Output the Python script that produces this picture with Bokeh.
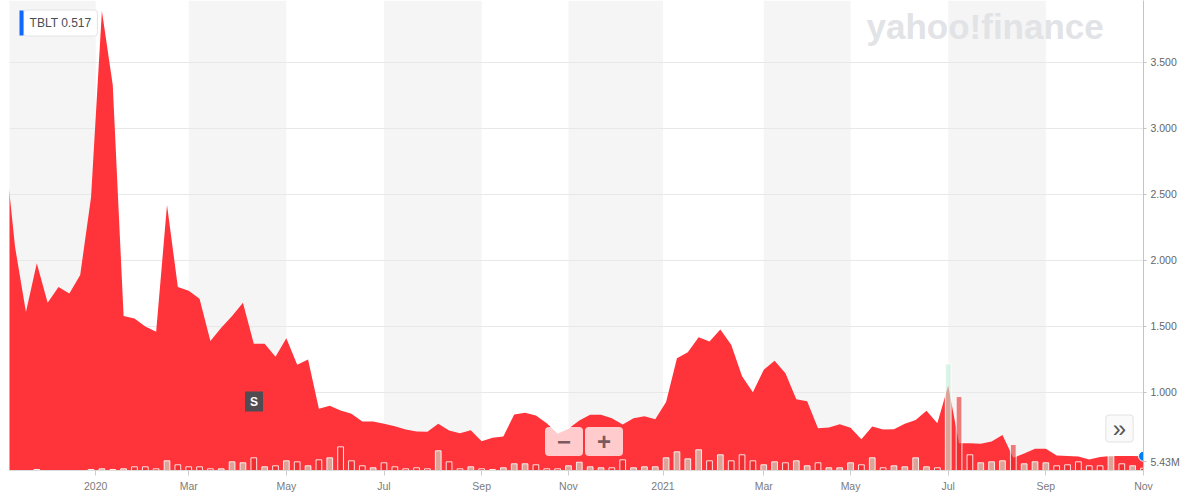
import pandas as pd
from bokeh.plotting import figure
from bokeh.models import (Range1d, FixedTicker, CustomJSTickFormatter,
                          BoxAnnotation, Label)
from bokeh.embed import file_html
from bokeh.resources import INLINE

# ---------------- data ----------------
symbol_text = "TBLT 0.517"
last_volume_text = "5.43M"

week_dates = pd.date_range("2019-11-03", periods=106, freq="7D")

price = [2.89, 2.10, 1.61, 1.98, 1.68, 1.80, 1.75, 1.89, 2.48, 3.89,
         3.33, 1.58, 1.56, 1.50, 1.46, 2.42, 1.80, 1.77, 1.71, 1.39,
         1.49, 1.58, 1.68, 1.37, 1.37, 1.27, 1.41, 1.21, 1.25, 0.877,
         0.899, 0.864, 0.839, 0.780, 0.780, 0.763, 0.745, 0.720, 0.705, 0.702,
         0.763, 0.712, 0.692, 0.714, 0.631, 0.657, 0.667, 0.833, 0.846, 0.826,
         0.767, 0.687, 0.725, 0.788, 0.831, 0.831, 0.805, 0.758, 0.805, 0.820,
         0.798, 0.927, 1.260, 1.305, 1.419, 1.386, 1.477, 1.361, 1.123, 1.002,
         1.172, 1.240, 1.146, 0.949, 0.934, 0.730, 0.735, 0.760, 0.733, 0.646,
         0.742, 0.720, 0.722, 0.763, 0.792, 0.861, 0.767, 1.053, 0.616, 0.616,
         0.611, 0.629, 0.678, 0.505, 0.538, 0.573, 0.573, 0.523, 0.519, 0.515,
         0.492, 0.511, 0.519, 0.519, 0.519, 0.517]

volume_m = [0, 0, 0, 2.4, 0, 0, 0, 0, 2.4, 4.0,
            2.4, 4.0, 8.7, 8.7, 4.0, 22.9, 13.5, 8.7, 8.7, 4.0,
            4.0, 20.5, 18.2, 30.0, 8.7, 11.1, 22.9, 20.5, 11.1, 25.3,
            30.0, 55.9, 22.9, 11.1, 6.4, 18.2, 8.7, 4.0, 6.4, 4.0,
            46.5, 20.5, 4.0, 8.7, 4.0, 2.4, 6.4, 15.8, 15.8, 13.5,
            4.0, 4.0, 11.1, 19.6, 8.7, 6.4, 6.4, 25.3, 6.4, 8.7,
            8.7, 30.0, 44.1, 27.6, 48.9, 22.9, 37.1, 22.9, 37.1, 22.9,
            13.5, 20.5, 18.2, 22.9, 11.1, 18.2, 6.4, 6.4, 18.2, 13.5,
            30.0, 6.4, 11.1, 8.7, 30.0, 8.7, 6.4, 251.8, 174.6, 37.1,
            18.2, 20.5, 22.9, 61.4, 15.8, 20.5, 18.2, 11.1, 13.5, 20.5,
            11.1, 11.1, 34.7, 15.8, 11.1, 5.43]

volume_up = [0, 0, 0, 1, 0, 0, 0, 0, 1, 1,
             1, 1, 0, 0, 0, 1, 0, 0, 0, 0,
             1, 1, 1, 0, 1, 0, 1, 0, 1, 0,
             1, 0, 0, 0, 1, 0, 0, 0, 0, 0,
             1, 0, 0, 1, 0, 1, 1, 1, 1, 0,
             0, 0, 1, 1, 1, 1, 0, 0, 1, 1,
             1, 1, 1, 1, 1, 0, 1, 0, 0, 0,
             1, 1, 0, 1, 1, 0, 1, 1, 1, 0,
             1, 0, 1, 1, 1, 1, 0, 1, 0, 0,
             1, 1, 1, 0, 1, 1, 1, 0, 0, 0,
             0, 0, 1, 0, 1, 0]

tick_months = ["2020-01", "2020-03", "2020-05", "2020-07", "2020-09", "2020-11",
               "2021-01", "2021-03", "2021-05", "2021-07", "2021-09", "2021-11"]
tick_labels = ["2020", "Mar", "May", "Jul", "Sep", "Nov",
               "2021", "Mar", "May", "Jul", "Sep", "Nov"]
y_ticks = [1.0, 1.5, 2.0, 2.5, 3.0, 3.5]

# ---------------- layout constants ----------------
FRAME_LEFT = 9
FRAME_W, FRAME_H = 1134, 470
WEEK_PX = 10.85
PX_PER_UNIT = 132.0
Y_START = 0.409
VOL_MAX = 1110.0
MS_DAY = 86400000
FONT = "Liberation Sans"

ms = [d.value // 10**6 for d in week_dates]
ms_per_px = 7 * MS_DAY / WEEK_PX
x_end = ms[-1]
x_start = x_end - FRAME_W * ms_per_px
y_end = Y_START + FRAME_H / PX_PER_UNIT


def px(page_x):
    return x_start + (page_x - FRAME_LEFT) * ms_per_px


def py(page_y):
    return y_end - page_y / PX_PER_UNIT


tick_ms = []
for m, lab in zip(tick_months, tick_labels):
    start = pd.Timestamp(m + "-01")
    if lab.isdigit():
        tick_ms.append(start.value // 10**6)
    else:
        tick_ms.append(next(v for d, v in zip(week_dates, ms) if d >= start))

vol_tick = py(461)

# ---------------- figure ----------------
p = figure(x_axis_type="datetime", y_axis_location="right",
           frame_width=FRAME_W, frame_height=FRAME_H,
           min_border_left=FRAME_LEFT, min_border_right=44, min_border_top=0, min_border_bottom=22,
           x_range=Range1d(x_start, x_end), y_range=Range1d(Y_START, y_end),
           output_backend="svg", toolbar_location=None)
p.outline_line_color = None
p.background_fill_color = "white"
p.border_fill_color = "white"
p.extra_y_ranges = {"vol": Range1d(0, VOL_MAX)}

# alternating background bands (two-month periods)
bands = [(x_start - 10 * MS_DAY, tick_ms[0])] + [(tick_ms[k], tick_ms[k + 1]) for k in range(1, 11, 2)]
for l, r in bands:
    p.add_layout(BoxAnnotation(left=l, right=r, fill_color="#f5f5f5", fill_alpha=1.0,
                               line_alpha=0, level="image"))

# grid
p.xgrid.visible = False
p.ygrid.ticker = FixedTicker(ticks=y_ticks)
p.ygrid.grid_line_color = "#e8e8e8"
p.ygrid.level = "underlay"

# price area
p.varea(x=week_dates, y1=0, y2=price, fill_color="#ff333a", fill_alpha=1.0)

# volume bars
bar_w = 3.7 * MS_DAY
up_x = [d for d, u in zip(week_dates, volume_up) if u]
up_v = [v for v, u in zip(volume_m, volume_up) if u]
dn_x = [d for d, u in zip(week_dates, volume_up) if not u]
dn_v = [v for v, u in zip(volume_m, volume_up) if not u]
p.vbar(x=dn_x, top=dn_v, bottom=0, width=bar_w, y_range_name="vol",
       fill_color="#e62b2b", fill_alpha=0.6, line_color="white", line_alpha=0.85, line_width=1)
p.vbar(x=up_x, top=up_v, bottom=0, width=bar_w, y_range_name="vol",
       fill_color="#c5eed9", fill_alpha=0.6, line_color="white", line_alpha=0.85, line_width=1)

# last point marker
p.scatter(x=[week_dates[-1]], y=[price[-1]], size=10, fill_color="#0081f2", line_color="white", line_width=1)

# ---------------- axes ----------------
xa = p.xaxis[0]
xa.ticker = FixedTicker(ticks=tick_ms)
xa.formatter = CustomJSTickFormatter(args=dict(tick_vals=tick_ms, tick_names=tick_labels), code="""
let best = -1, bd = Infinity;
for (let k = 0; k < tick_vals.length; k++) {
  const d = Math.abs(tick_vals[k] - tick);
  if (d < bd) { bd = d; best = k; }
}
return bd < 1e6 ? tick_names[best] : "";
""")
xa.axis_line_color = "#dddddd"
xa.major_tick_line_color = "#cccccc"
xa.major_tick_out = 5
xa.major_tick_in = 0
xa.minor_tick_line_color = None
xa.major_label_standoff = 4
xa.major_label_text_font = FONT
xa.major_label_text_font_size = "10.5px"
xa.major_label_text_color = "#7b7b7b"

ya = p.yaxis[0]
ya.ticker = FixedTicker(ticks=y_ticks + [vol_tick])
ya.formatter = CustomJSTickFormatter(args=dict(vt=vol_tick, vtext=last_volume_text), code="""
if (Math.abs(tick - vt) < 1e-9) return vtext;
return tick.toFixed(3);
""")
ya.axis_line_color = "#c4c4c4"
ya.major_tick_line_color = "#c4c4c4"
ya.major_tick_out = 3
ya.major_tick_in = 0
ya.minor_tick_line_color = None
ya.major_label_standoff = 4
ya.major_label_text_font = FONT
ya.major_label_text_font_size = "10.5px"
ya.major_label_text_color = "#666666"

# ---------------- overlays / chrome ----------------
p.add_layout(Label(x=px(866), y=py(26), text="yahoo!finance", text_font=FONT,
                   text_font_style="bold", text_font_size="35px", text_color="#e1e3e6",
                   text_align="left", text_baseline="middle"))

p.add_layout(Label(x=px(60), y=py(22.5), text=symbol_text, text_font=FONT,
                   text_font_size="12px", text_color="#464e56", text_align="center",
                   text_baseline="middle", background_fill_color="white",
                   border_line_color="#e4e4e4",
                   padding=dict(left=6, right=6, top=6, bottom=6), border_radius=3))
p.add_layout(BoxAnnotation(left=px(19), right=px(23), top=py(10), bottom=py(35),
                           fill_color="#0f69ff", fill_alpha=1.0, line_alpha=0, level="overlay"))

p.add_layout(Label(x=px(253.5), y=py(401), text="S", text_font=FONT, text_font_style="bold",
                   text_font_size="12px", text_color="white", text_align="center",
                   text_baseline="middle", background_fill_color="#514c52",
                   padding=dict(left=5, right=5, top=3, bottom=3)))

p.add_layout(Label(x=px(563.5), y=py(441), text="\u2212", text_font=FONT, text_font_style="bold",
                   text_font_size="24px", text_color="#7a5a5e", text_align="center",
                   text_baseline="middle", background_fill_color="white", background_fill_alpha=0.75,
                   padding=dict(left=12, right=12, top=6, bottom=6), border_radius=4))
p.add_layout(Label(x=px(603.5), y=py(441), text="+", text_font=FONT, text_font_style="bold",
                   text_font_size="24px", text_color="#7a5a5e", text_align="center",
                   text_baseline="middle", background_fill_color="white", background_fill_alpha=0.75,
                   padding=dict(left=12, right=12, top=6, bottom=6), border_radius=4))

p.add_layout(Label(x=px(1119), y=py(428), text="\u00bb", text_font=FONT,
                   text_font_size="24px", text_color="#555555", text_align="center",
                   text_baseline="middle", background_fill_color="#fafafa",
                   border_line_color="#e2e2e2",
                   padding=dict(left=7, right=7, top=0, bottom=0), border_radius=3))

open("out.html", "w").write(file_html(p, INLINE))
